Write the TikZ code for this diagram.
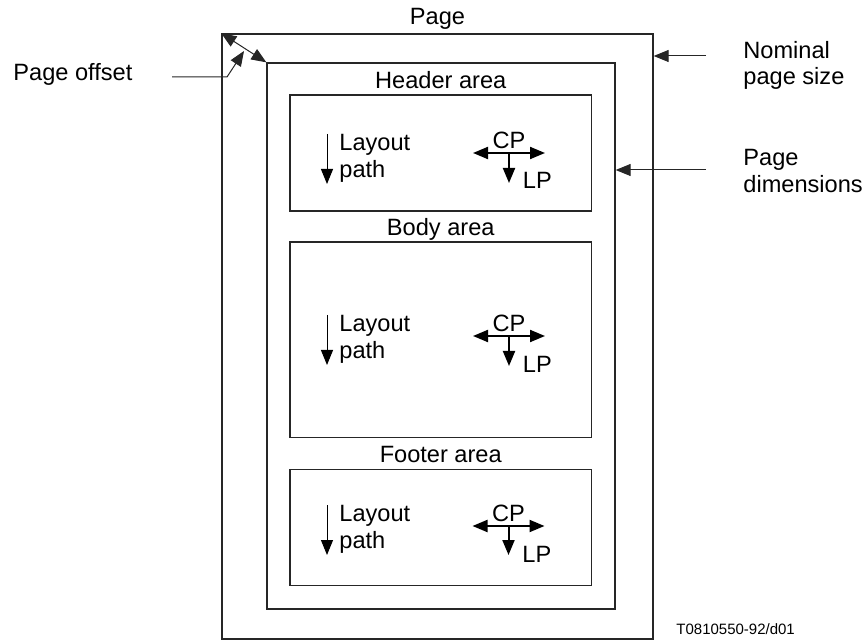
\documentclass[tikz,border=0pt]{standalone}
\usepackage{fontspec}
\setmainfont{Liberation Sans}
\usetikzlibrary{arrows.meta,positioning,fit}
\begin{document}
\begin{tikzpicture}[x=0.5pt,y=-0.5pt,>={Triangle[length=7.5pt,width=6pt]},
        box/.style={rectangle,draw=black!85,line width=0.65pt,inner sep=0pt},
        lbl/.style={inner sep=0pt,font=\fontsize{11.8}{13.25}\selectfont,align=left},
        tag/.style={inner sep=0pt,font=\fontsize{7.5}{9}\selectfont},
        lead/.style={draw=black!85,line width=0.5pt,->},
        lpath/.style={line width=0.5pt,->},
        cpline/.style={line width=1pt}]

        \useasboundingbox (0,0) rectangle (867,641);

        % nominal page and page dimensions
        \node[box,fit={(222,34)(653,639)}] (page) {};
        \node[box,fit={(267,63)(615,609)}] (dim) {};
        \node[lbl,above=4.5pt of page,anchor=base] (pagettl) {Page};

        % areas
        \node[box,fit={(290,95)(591.5,211)}] (header) {};
        \node[box,fit={(290,242)(591.5,437.5)}] (body) {};
        \node[box,fit={(290,469.5)(591.5,585.5)}] (footer) {};
        \node[lbl,above=3pt of header,anchor=base] (headerttl) {Header area};
        \node[lbl,above=3pt of body,anchor=base] (bodyttl) {Body area};
        \node[lbl,above=3pt of footer,anchor=base] (footerttl) {Footer area};

        % header area
        \node[lbl,anchor=north west] (hlay) at (339,134) {Layout\\path};
        \draw[lpath] ([xshift=-6pt]hlay.north west) -- ++(0,50);
        \coordinate (hcp) at (509,153);
        \draw[cpline,<->] ([xshift=-18pt]hcp) -- ([xshift=18pt]hcp);
        \draw[cpline,->] (hcp) -- ++(0,30);
        \node[lbl,above=2.25pt of hcp,anchor=base] (hcptxt) {CP};
        \node[lbl,anchor=base west] (hlp) at ([xshift=6.75pt,yshift=-18pt]hcp) {LP};

        % body area
        \node[lbl,anchor=north west] (blay) at (339,315) {Layout\\path};
        \draw[lpath] ([xshift=-6pt]blay.north west) -- ++(0,50);
        \coordinate (bcp) at (509,336);
        \draw[cpline,<->] ([xshift=-18pt]bcp) -- ([xshift=18pt]bcp);
        \draw[cpline,->] (bcp) -- ++(0,30);
        \node[lbl,above=2.25pt of bcp,anchor=base] (bcptxt) {CP};
        \node[lbl,anchor=base west] (blp) at ([xshift=6.75pt,yshift=-18pt]bcp) {LP};

        % footer area
        \node[lbl,anchor=north west] (flay) at (339,505) {Layout\\path};
        \draw[lpath] ([xshift=-6pt]flay.north west) -- ++(0,50);
        \coordinate (fcp) at (508.5,526);
        \draw[cpline,<->] ([xshift=-18pt]fcp) -- ([xshift=18pt]fcp);
        \draw[cpline,->] (fcp) -- ++(0,29);
        \node[lbl,above=2.25pt of fcp,anchor=base] (fcptxt) {CP};
        \node[lbl,anchor=base west] (flp) at ([xshift=6.75pt,yshift=-18pt]fcp) {LP};

        % side labels
        \node[lbl,anchor=north west] (nomlbl) at (743,41) {Nominal\\page size};
        \node[lbl,anchor=north west] (dimlbl) at (743,149) {Page\\dimensions};
        \node[lbl,anchor=north west] (offlbl) at (13,63) {Page offset};
        \node[tag,anchor=base west] (fig) at (676,634) {T0810550-92/d01};

        \coordinate (nomtail) at (706,56);
        \coordinate (dimtail) at (706,170);
        \coordinate (offtail) at (172,77);
        \coordinate (offtip) at (244,51);
        \draw[lead] (nomtail) -- (nomtail -| page.east);
        \draw[lead] (dimtail) -- (dimtail -| dim.east);
        \draw[lead] (offtail) -- ++(55,0) -- (offtip);
        \draw[lead,<->] (page.north west) -- (dim.north west);
    \end{tikzpicture}
\end{document}
